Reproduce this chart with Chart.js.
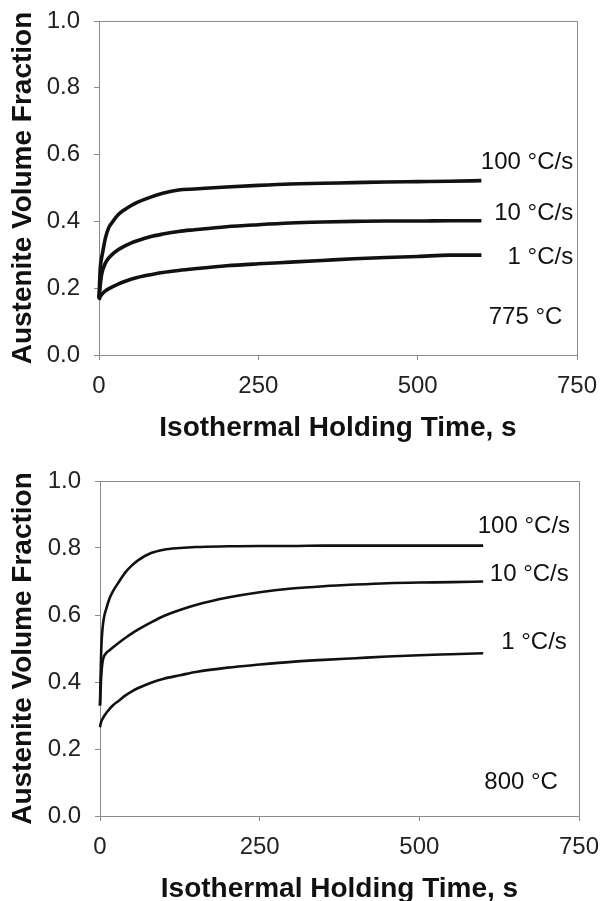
<!DOCTYPE html>
<html><head><meta charset="utf-8">
<script src="https://cdn.jsdelivr.net/npm/chart.js@4"></script>
<style>body{margin:0;background:#fff}canvas{display:block}</style>
</head><body>
<canvas id="c1" width="600" height="450" style="width:600px;height:450px"></canvas>
<canvas id="c2" width="600" height="451" style="width:600px;height:451px"></canvas>
<script>
// Isothermal holding time (s)
const times = [0,1,2,4,6,10,15,20,30,40,50,60,80,100,125,150,200,250,300,350,400,450,500,550,600];

// 775 °C
const t775_100 = [0.17,0.22,0.26,0.29,0.31,0.35,0.38,0.395,0.42,0.435,0.447,0.457,0.472,0.484,0.494,0.497,0.503,0.508,0.512,0.514,0.516,0.518,0.519,0.520,0.522];
const t775_10  = [0.17,0.19,0.21,0.24,0.255,0.275,0.29,0.30,0.315,0.326,0.335,0.342,0.354,0.362,0.370,0.375,0.384,0.390,0.395,0.398,0.400,0.401,0.401,0.402,0.402];
const t775_1   = [0.165,0.17,0.175,0.18,0.185,0.192,0.198,0.203,0.212,0.22,0.227,0.232,0.240,0.247,0.253,0.258,0.267,0.273,0.278,0.283,0.288,0.292,0.295,0.299,0.299];

// 800 °C
const t800_100 = [0.33,0.42,0.50,0.56,0.59,0.62,0.65,0.67,0.70,0.728,0.748,0.764,0.785,0.795,0.800,0.803,0.805,0.806,0.806,0.807,0.807,0.807,0.807,0.807,0.807];
const t800_10  = [0.33,0.38,0.42,0.46,0.475,0.487,0.495,0.503,0.518,0.532,0.545,0.557,0.578,0.597,0.615,0.630,0.652,0.668,0.679,0.686,0.691,0.695,0.697,0.698,0.700];
const t800_1   = [0.265,0.275,0.282,0.29,0.297,0.308,0.32,0.33,0.345,0.36,0.372,0.382,0.398,0.41,0.42,0.43,0.443,0.452,0.46,0.466,0.471,0.476,0.48,0.483,0.486];

const xTicks = [0, 250, 500, 750];
const xTickLabels = ['0', '250', '500', '750'];
const yTicks = [0, 0.2, 0.4, 0.6, 0.8, 1.0];
const yTickLabels = ['0.0', '0.2', '0.4', '0.6', '0.8', '1.0'];
const rateLabels = ['100 °C/s', '10 °C/s', '1 °C/s'];

const xTitle = 'Isothermal Holding Time, s';
const yTitle = 'Austenite Volume Fraction';

const FONT = "'Liberation Sans', Arial, sans-serif";
const AXIS = '#8a8a8a';

const pts = arr => times.map((t, i) => ({x: t, y: arr[i]}));

const frame = {
  id: 'frame',
  afterDatasetsDraw(chart) {
    const {ctx, chartArea: a} = chart;
    ctx.save();
    ctx.strokeStyle = AXIS; ctx.lineWidth = 1;
    ctx.beginPath();
    ctx.moveTo(Math.round(a.left) + 0.5, Math.round(a.top) + 0.5);
    ctx.lineTo(Math.round(a.right) + 0.5, Math.round(a.top) + 0.5);
    ctx.lineTo(Math.round(a.right) + 0.5, Math.round(a.bottom) + 0.5);
    ctx.stroke();
    ctx.restore();
  }
};

const notes = {
  id: 'notes',
  afterDatasetsDraw(chart, args, opts) {
    const {ctx, scales} = chart;
    ctx.save();
    ctx.fillStyle = '#111';
    ctx.font = '24px ' + FONT;
    ctx.textAlign = 'right';
    ctx.textBaseline = 'middle';
    (opts.items || []).forEach(it => {
      ctx.fillText(it.text, scales.x.getPixelForValue(it.x), scales.y.getPixelForValue(it.y));
    });
    ctx.restore();
  }
};

function makeChart(id, series, lw, items, L) {
  return new Chart(document.getElementById(id), {
    type: 'line',
    data: {
      datasets: series.map(s => ({
        data: pts(s), borderColor: '#111', borderWidth: lw, pointRadius: 0,
        cubicInterpolationMode: 'monotone', fill: false, clip: false
      }))
    },
    options: {
      responsive: false, animation: false, devicePixelRatio: 1,
      layout: {padding: {top: L.top, right: L.right, left: 0, bottom: 0}},
      plugins: {legend: {display: false}, tooltip: {enabled: false}, notes: {items}},
      scales: {
        x: {
          type: 'linear', min: 0, max: 750,
          afterBuildTicks: sc => { sc.ticks = xTicks.map(v => ({value: v})); },
          afterFit: sc => { sc.height = L.xh; sc.paddingLeft = 0; sc.paddingRight = 0; },
          grid: {display: true, drawOnChartArea: false, drawTicks: true, tickLength: 5, color: AXIS},
          border: {display: true, color: AXIS, width: 1},
          ticks: {color: '#222', font: {family: FONT, size: 24}, padding: 12, maxRotation: 0,
                  callback: (v, i) => xTickLabels[i]},
          title: {display: true, text: xTitle, color: '#111', font: {family: FONT, size: 28, weight: 'bold'},
                  padding: {top: 0, bottom: L.xtp}}
        },
        y: {
          min: 0, max: 1,
          afterBuildTicks: sc => { sc.ticks = yTicks.map(v => ({value: v})); },
          afterFit: sc => { sc.width = L.yw; sc.paddingTop = 0; sc.paddingBottom = 0; },
          grid: {display: true, drawOnChartArea: false, drawTicks: true, tickLength: 5, color: AXIS},
          border: {display: true, color: AXIS, width: 1},
          ticks: {color: '#222', font: {family: FONT, size: 24}, padding: 14,
                  callback: (v, i) => yTickLabels[i]},
          title: {display: true, text: yTitle, color: '#111', font: {family: FONT, size: 28, weight: 'bold'},
                  padding: {top: 6, bottom: 0}}
        }
      }
    },
    plugins: [frame, notes]
  });
}

makeChart('c1', [t775_100, t775_10, t775_1], 3.6, [
  {text: rateLabels[0], x: 744, y: 0.578},
  {text: rateLabels[1], x: 744, y: 0.425},
  {text: rateLabels[2], x: 744, y: 0.293},
  {text: '775 °C', x: 727, y: 0.114}
], {top: 21, right: 23, yw: 99, xh: 95, xtp: 5});

makeChart('c2', [t800_100, t800_10, t800_1], 2.6, [
  {text: rateLabels[0], x: 736, y: 0.866},
  {text: rateLabels[1], x: 734, y: 0.722},
  {text: rateLabels[2], x: 731, y: 0.519},
  {text: '800 °C', x: 717, y: 0.10}
], {top: 31, right: 21, yw: 100, xh: 85, xtp: -5});
</script>
</body></html>
